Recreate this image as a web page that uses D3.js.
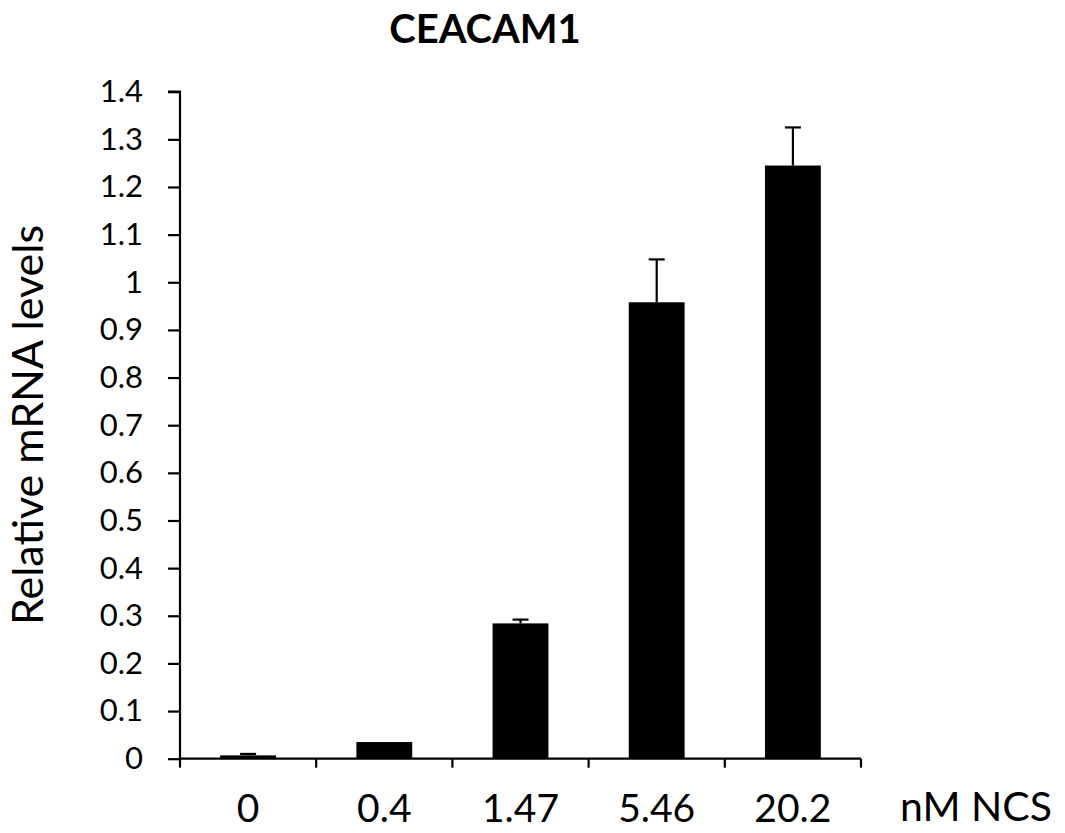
<!DOCTYPE html>
<html><head><meta charset="utf-8">
<script src="https://cdn.jsdelivr.net/npm/d3@7"></script>
<style>body{margin:0;background:#fff}svg{display:block}</style>
</head><body>
<svg id="c" width="1065" height="833"></svg>
<script>
const categories = ["0", "0.4", "1.47", "5.46", "20.2"];
const values = [0.007, 0.035, 0.284, 0.958, 1.245];
const errors = [0.003, 0, 0.008, 0.09, 0.08];
const yTicks = [0, 0.1, 0.2, 0.3, 0.4, 0.5, 0.6, 0.7, 0.8, 0.9, 1, 1.1, 1.2, 1.3, 1.4];
const title = "CEACAM1";
const yLabel = "Relative mRNA levels";
const xUnit = "nM NCS";

const svg = d3.select("#c");
const font = "Lato, 'Open Sans', sans-serif";
const x = d3.scaleBand().domain(categories).range([180, 861]).paddingInner(0.59).paddingOuter(0.295);
const y = d3.scaleLinear().domain([0, 1.4]).range([758.7, 91.7]);

// bars
svg.selectAll("rect.bar").data(values).join("rect")
  .attr("x", (d, i) => x(categories[i]))
  .attr("width", x.bandwidth())
  .attr("y", d => y(d))
  .attr("height", d => y(0) - y(d))
  .attr("fill", "#000");

// error bars
const eg = svg.append("g").attr("stroke", "#000").attr("stroke-width", 2.2);
values.forEach((v, i) => {
  if (!errors[i]) return;
  const cx = x(categories[i]) + x.bandwidth() / 2;
  eg.append("line").attr("x1", cx).attr("x2", cx).attr("y1", y(v)).attr("y2", y(v + errors[i]));
  eg.append("line").attr("x1", cx - 8).attr("x2", cx + 8).attr("y1", y(v + errors[i])).attr("y2", y(v + errors[i]));
});

// y axis
const yAxis = svg.append("g").attr("transform", "translate(180,0)")
  .call(d3.axisLeft(y).tickValues(yTicks).tickSize(12).tickPadding(25).tickFormat(d => d3.format("")(+d.toFixed(1))));
yAxis.select(".domain").attr("stroke-width", 2.2).attr("d", `M-12,${y(1.4)}H0V${y(0)}`);
yAxis.selectAll(".tick line").attr("stroke-width", 2.2);
yAxis.selectAll("text").attr("font-family", font).attr("font-size", 31).attr("fill", "#000");

// x axis
const xAxis = svg.append("g").attr("transform", `translate(0,${y(0)})`)
  .call(d3.axisBottom(x).tickSize(0).tickPadding(36));
xAxis.select(".domain").attr("stroke-width", 2.2).attr("d", `M180,0H861`);
xAxis.selectAll(".tick line").remove();
xAxis.selectAll("text").attr("font-family", font).attr("font-size", 39).attr("fill", "#000");
// x ticks at band boundaries
const bounds = d3.range(categories.length + 1).map(i => 180 + i * x.step());
xAxis.selectAll("line.bt").data(bounds).join("line").attr("class", "bt")
  .attr("x1", d => d).attr("x2", d => d).attr("y1", 0).attr("y2", 9)
  .attr("stroke", "#000").attr("stroke-width", 2.2);

svg.append("text").attr("x", 900).attr("y", 821).attr("font-family", font).attr("font-size", 41).text(xUnit);

svg.append("text").attr("x", 485).attr("y", 43).attr("text-anchor", "middle")
  .attr("font-family", font).attr("font-weight", "bold").attr("font-size", 40).text(title);

svg.append("text").attr("transform", "translate(43,425) rotate(-90)").attr("text-anchor", "middle")
  .attr("font-family", font).attr("font-size", 43).text(yLabel);
</script>
</body></html>
